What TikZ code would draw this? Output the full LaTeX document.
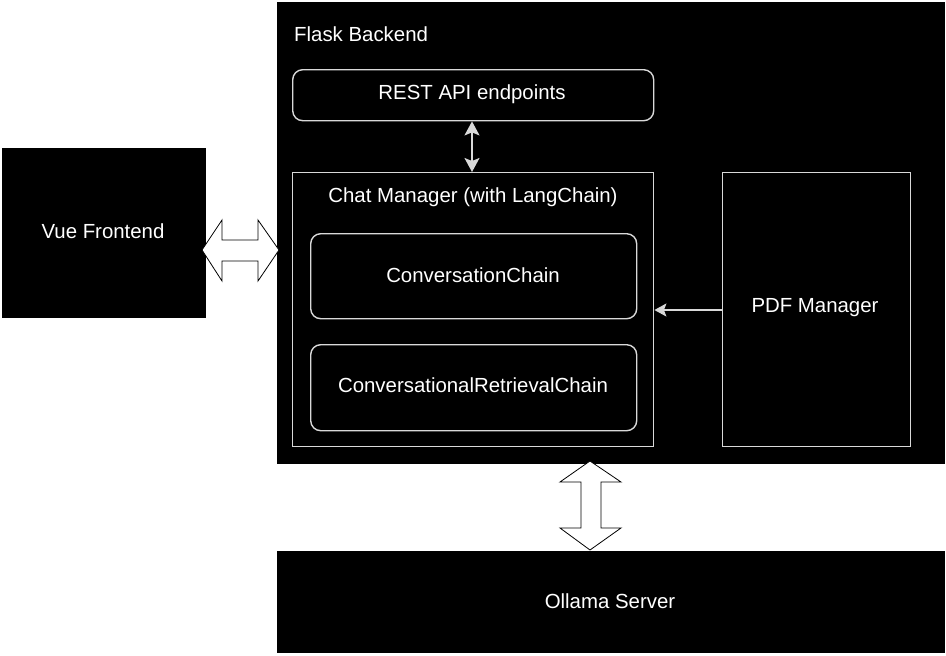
\documentclass[tikz,border=0pt]{standalone}
\usepackage{fontspec}
\setmainfont{Liberation Sans}
\usetikzlibrary{arrows.meta}
\begin{document}
\begin{tikzpicture}[x=1pt,y=-1pt,
  blk/.style={fill=black,draw=black},
  wbox/.style={draw=white!85!black,line width=1.4pt,fill=black},
  rbox/.style={wbox,rounded corners=10pt},
  lbl/.style={text=white,font=\fontsize{20.4}{22}\selectfont,inner sep=0pt},
  hollow/.style={draw=black,fill=white,line width=0.8pt,line join=miter},
  wline/.style={draw=white!85!black,line width=1.8pt}
]
\useasboundingbox (0,0) rectangle (946,656);
\fill[white] (0,0) rectangle (946,656);

% Flask backend container
\node[blk,minimum width=667pt,minimum height=461pt,anchor=north west,inner sep=0pt] (flask) at (277,2) {};
\node[lbl,anchor=west] (flasklbl) at (294,34) {Flask Backend};

% REST API
\node[rbox,minimum width=361pt,minimum height=51pt,anchor=north west,inner sep=0pt] (rest) at (292,69) {};
\node[lbl] (restlbl) at (472,94) {REST API endpoints};

% Chat manager
\node[wbox,minimum width=361pt,minimum height=274pt,anchor=north west,inner sep=0pt] (chat) at (292,172) {};
\node[lbl] (chatlbl) at (473,197) {Chat Manager (with LangChain)};

\node[rbox,minimum width=326pt,minimum height=85pt,anchor=north west,inner sep=0pt] (conv) at (310,233) {};
\node[lbl] (convlbl) at (473,275) {ConversationChain};

\node[rbox,minimum width=326pt,minimum height=86pt,anchor=north west,inner sep=0pt] (retr) at (310,344) {};
\node[lbl] (retrlbl) at (473,385) {ConversationalRetrievalChain};

% PDF manager
\node[wbox,minimum width=188pt,minimum height=274pt,anchor=north west,inner sep=0pt] (pdf) at (722,172) {};
\node[lbl] (pdflbl) at (815,308) {PDF Manager};

% Vue frontend
\node[blk,minimum width=203pt,minimum height=169pt,anchor=north west,inner sep=0pt] (vue) at (2,148) {};
\node[lbl] (vuelbl) at (103,231) {Vue Frontend};

% Ollama
\node[blk,minimum width=667pt,minimum height=101pt,anchor=north west,inner sep=0pt] (ollama) at (277,551) {};
\node[lbl] (ollamalbl) at (610,601) {Ollama Server};

% connectors
\draw[wline,{Stealth[length=14pt,width=15pt,inset=3pt]}-{Stealth[length=14pt,width=15pt,inset=3pt]}] (rest.south -| 472,0) -- (chat.north -| 472,0);
\draw[wline,-{Stealth[length=12pt,width=13pt,inset=2.5pt]}] (pdf.west |- 0,310) -- (chat.east |- 0,310);

% hollow double arrows
\draw[hollow] (202,250) -- (222,220) -- (222,240) -- (258,240) -- (258,220) -- (279,250)
  -- (258,281) -- (258,261) -- (222,261) -- (222,281) -- cycle;
\draw[hollow] (590,461) -- (621,482) -- (601,482) -- (601,528) -- (621,528) -- (590,550)
  -- (560,528) -- (581,528) -- (581,482) -- (560,482) -- cycle;
\end{tikzpicture}
\end{document}
